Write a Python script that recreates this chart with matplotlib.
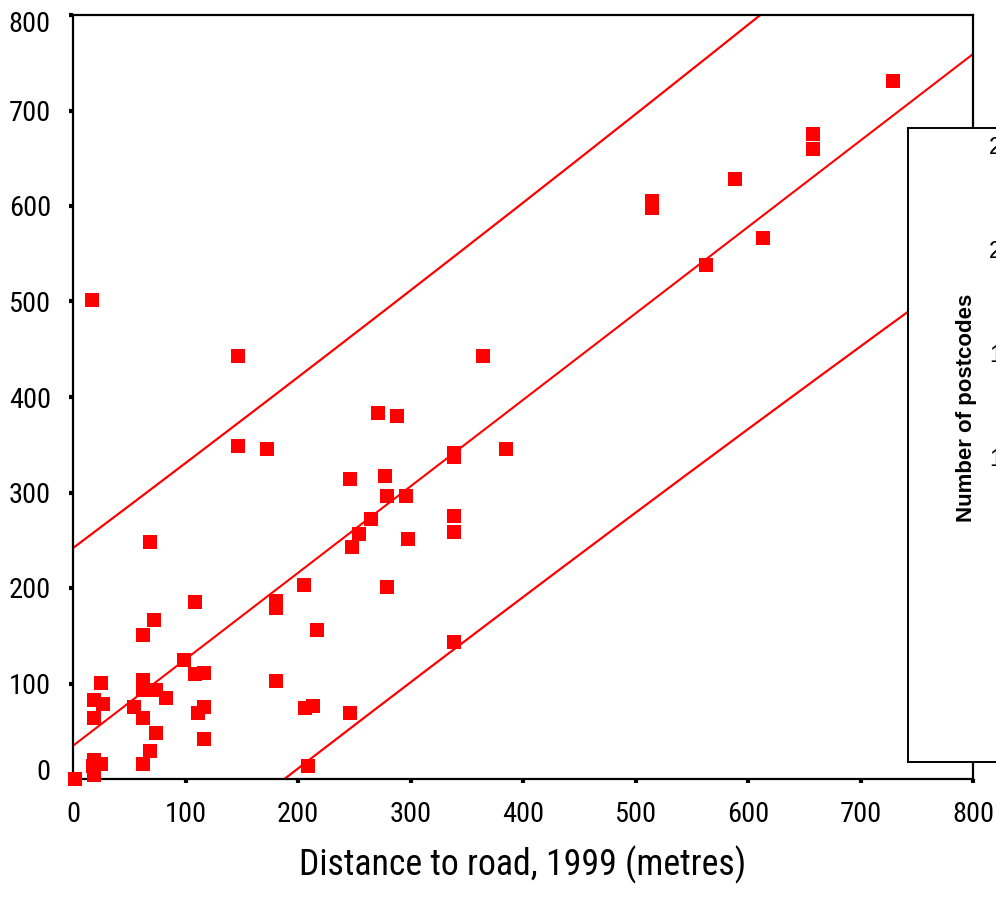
import os
import numpy as np
import matplotlib
matplotlib.use("Agg")
import matplotlib.pyplot as plt
import matplotlib.transforms as mtransforms
from matplotlib import font_manager

#%% data
dist_1999 = [2, 17, 19, 18, 25, 19, 19, 19, 27, 25, 54, 62, 62, 62, 62, 62, 68, 68, 72, 74,
             74, 83, 99, 108, 108, 116, 111, 116, 116, 147, 147, 172, 180, 180, 180, 205, 217, 206,
             213, 209, 246, 246, 248, 254, 265, 271, 277, 279, 279, 288, 296, 298, 339, 339, 339,
             339, 339, 364, 385, 515, 515, 563, 588, 613, 658, 658, 729]
dist_now = [0, 502, 20, 14, 16, 4, 64, 83, 79, 101, 75, 151, 104, 93, 64, 16, 248, 29, 166, 93,
            48, 85, 125, 185, 110, 111, 69, 75, 42, 443, 349, 346, 186, 179, 103, 203, 156, 74,
            76, 14, 314, 69, 243, 257, 272, 383, 317, 296, 201, 380, 296, 251, 341, 337, 275,
            259, 143, 443, 346, 605, 598, 538, 628, 567, 675, 660, 731]

axis_ticks = [0, 100, 200, 300, 400, 500, 600, 700, 800]
box_ticks = ["25", "20", "15", "10"]   # cut off at the right edge of the picture
x_label = "Distance to road, 1999 (metres)"
box_label = "Number of postcodes"

t_95 = 1.995  # t value, 95% individual prediction interval

#%% fonts - the original uses a narrow Arial-like face
plt.rcParams['font.family'] = ['Liberation Sans', 'DejaVu Sans']

def find_narrow():
    bad = ('bold', 'italic', 'oblique', 'light', 'semi', 'extra', 'medium', 'thin',
           'black', 'mono', 'serif', 'heavy')
    files = sorted(set(f.fname for f in font_manager.fontManager.ttflist))
    for key in ('liberationsansnarrow', 'notosans', 'opensans', 'roboto', 'dejavusans', ''):
        for f in files:
            b = os.path.basename(f).lower()
            if key and not b.startswith(key):
                continue
            if ('narrow' in b or 'condensed' in b) and not any(w in b for w in bad):
                return font_manager.FontProperties(fname=f)
    return None

fp_narrow = find_narrow()
if fp_narrow is None:
    fp_narrow = font_manager.FontProperties(family='Liberation Sans')
    narrow_found = False
else:
    narrow_found = True

#%% fit line + prediction interval
x = np.array(dist_1999, dtype=float)
y = np.array(dist_now, dtype=float)
n = len(x)
slope, intercept = np.polyfit(x, y, 1)
resid = y - (intercept + slope * x)
s = np.sqrt(np.sum(resid ** 2) / (n - 2))
sxx = np.sum((x - x.mean()) ** 2)
xs = np.linspace(0, 800, 400)
fit = intercept + slope * xs
half = t_95 * s * np.sqrt(1 + 1 / n + (xs - x.mean()) ** 2 / sxx)

#%% figure
W, H = 996, 910
fig = plt.figure(figsize=(W / 100, H / 100), dpi=100)
renderer = fig.canvas.get_renderer()

def fit_size(text, fp, target_px, base=20.0):
    t = fig.text(0, 0, text, fontproperties=fp, fontsize=base)
    w = t.get_window_extent(renderer).width
    t.remove()
    return base * target_px / w

# sizes from the widths in the reference (a bit wider so the height comes closer)
if narrow_found:
    tick_size = fit_size("100", fp_narrow, 42)
    xlab_size = fit_size(x_label, fp_narrow, 445)
else:
    tick_size = fit_size("100", fp_narrow, 41)
    xlab_size = fit_size(x_label, fp_narrow, 440)

ax = fig.add_axes([73 / W, 1 - 779 / H, 900 / W, 764 / H])

ax.plot(xs, fit, color='#ff0000', lw=1.5, zorder=2)
ax.plot(xs, fit + half, color='#ff0000', lw=1.6, zorder=2)
ax.plot(xs, fit - half, color='#ff0000', lw=1.6, zorder=2)
ax.plot(x, y, 's', color='#ff0000', markersize=9.5, markeredgewidth=0, zorder=3, clip_on=False)

ax.set_xlim(0, 800)
ax.set_ylim(0, 800)
ax.set_xticks(axis_ticks)
ax.set_yticks(axis_ticks)
ax.set_xticklabels([str(v) for v in axis_ticks], fontproperties=fp_narrow, fontsize=tick_size)
ax.set_yticklabels([str(v) for v in axis_ticks], fontproperties=fp_narrow, fontsize=tick_size)
ax.tick_params(axis='x', direction='out', length=3, width=3, pad=13)
ax.tick_params(axis='y', direction='out', length=3, width=3, pad=13)
for sp in ax.spines.values():
    sp.set_linewidth(1.6)

# end labels of the y axis sit a little inside, as in the original
ylabs = ax.get_yticklabels()
ylabs[0].set_transform(ylabs[0].get_transform() +
                       mtransforms.ScaledTranslation(0, 10 / 100, fig.dpi_scale_trans))
ylabs[-1].set_transform(ylabs[-1].get_transform() +
                        mtransforms.ScaledTranslation(0, -6 / 100, fig.dpi_scale_trans))

ax.set_xlabel(x_label, fontproperties=fp_narrow, fontsize=xlab_size, va='center')
ax.xaxis.set_label_coords(0.5, (779 - 865) / 764)

# overlapping panel on the right, cut by the edge of the picture
box = fig.add_axes([908 / W, 1 - 762 / H, 200 / W, 634 / H])
box.set_facecolor('white')
box.set_xticks([])
box.set_yticks([])
for sp in box.spines.values():
    sp.set_linewidth(1.4)
box.set_zorder(5)
fig.text(966 / W, 1 - 408 / H, box_label, rotation=90, fontsize=16, fontweight='bold',
         ha='center', va='center', zorder=6)
for i, lab in enumerate(box_ticks):
    fig.text(989 / W, 1 - (148 + 104 * i) / H, lab, fontsize=17, ha='left', va='center', zorder=6)

fig.savefig("out.png", dpi=100)
